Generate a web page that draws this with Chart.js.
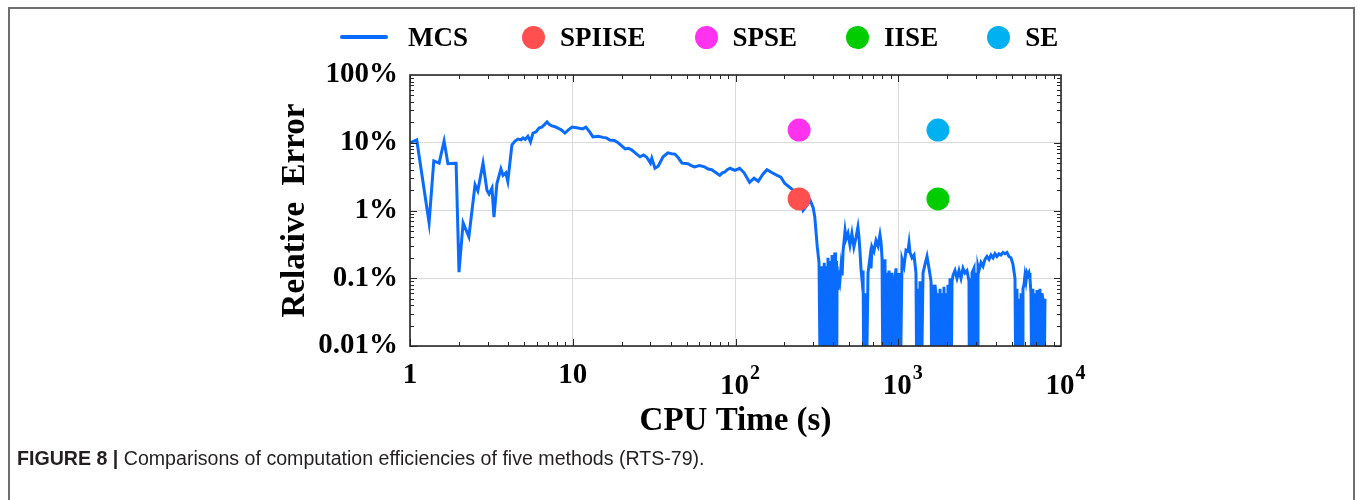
<!DOCTYPE html>
<html>
<head>
<meta charset="utf-8">
<script src="https://cdn.jsdelivr.net/npm/chart.js@4.4.1/dist/chart.umd.min.js"></script>
<style>
  body { margin: 0; background: #fff; }
  #page { position: relative; width: 1357px; height: 500px; overflow: hidden; background: #fff; }
  #frame { position: absolute; left: 8px; top: 7px; width: 1347px; height: 520px; border: 2px solid #6e6e6e; box-sizing: border-box; }
  #chartBox { position: absolute; left: 0; top: 0; width: 1357px; height: 500px; }
  #legend { position: absolute; left: 340px; top: 22px; height: 30px; display: flex; align-items: center;
            font: bold 27px "Liberation Serif", "Times New Roman", serif; color: #000; }
  .item { display: flex; align-items: center; margin-right: 49px; }
  .item:first-child { margin-right: 54px; }
  .swatchLine { width: 48px; height: 4px; border-radius: 2px; margin-right: 20px; }
  .swatchDot { width: 23px; height: 23px; border-radius: 50%; margin-right: 15px; }
  #caption { position: absolute; left: 17px; top: 447px; font: 19.6px "Liberation Sans", Arial, sans-serif; color: #231f20; }
</style>
</head>
<body>
<div id="page">
  <div id="frame"></div>
  <div id="chartBox"><canvas id="errChart" width="1357" height="500"></canvas></div>
  <div id="legend"></div>
  <div id="caption"><b>FIGURE 8 |</b> Comparisons of computation efficiencies of five methods (RTS-79).</div>
</div>
<script>
// Axis ticks
const xTicks = [1, 10, 100, 1000, 10000];
const yTicks = [0.01, 0.1, 1, 10, 100];
const yTickLabels = ['0.01%', '0.1%', '1%', '10%', '100%'];

// MCS convergence curve (CPU time in s, relative error in %)
// values of 0.001 fall below the axis (error reached zero)
const mcsTime = [
  1.00, 1.10, 1.31, 1.40, 1.51, 1.62, 1.71, 1.89, 1.92, 2.00, 2.12, 2.30, 2.51, 2.61, 2.81, 2.97, 3.06, 3.19, 3.28, 3.42,
  3.62, 3.73, 3.88, 3.99, 4.23, 4.42, 4.60, 4.80, 4.95, 5.10, 5.30, 5.50, 5.70, 5.95, 6.20, 6.45, 6.70, 6.95, 7.20, 7.45,
  7.80, 8.10, 8.50, 8.95, 9.40, 9.90, 10.8, 11.5, 12.05, 12.7, 13.3, 14.3, 15.3, 16.1, 16.9, 18.0, 19.0, 20.0, 21.0, 22.0,
  23.1, 24.5, 25.9, 27.2, 28.5, 30.0, 30.6, 32.0, 33.5, 35.9, 38.4, 40.5, 42.4, 44.5, 46.9, 51.0, 53.5, 56.0, 60.0, 64.5,
  68.0, 71.4, 76.0, 80.0, 83.0, 86.0, 89.0, 92.6, 99.0, 106, 113, 122, 130, 138, 147, 156, 168, 180, 190, 201,
  215, 226, 238, 250, 260, 275, 288, 300, 307, 318, 326,
  333, 337, 340, 344, 347, 351, 355, 359, 362, 366,
  370, 373, 377, 381, 386, 389, 392, 395, 398, 401,
  405, 409, 412, 415, 418, 421, 427, 433, 439, 445,
  452, 458, 471, 478, 491, 505, 519, 534, 550, 565,
  573, 582, 590, 599, 608, 616, 625, 634, 652, 670,
  680, 690, 709, 730, 751, 772, 783, 795, 807, 818,
  829, 841, 854, 866, 878, 890, 903, 916, 929, 942,
  955, 969, 983, 997, 1011, 1025, 1055, 1085, 1116, 1148,
  1165, 1181, 1215, 1250, 1285, 1303, 1322, 1341, 1360, 1380,
  1420, 1460, 1502, 1545, 1590, 1613, 1635, 1658, 1680, 1706,
  1730, 1754, 1780, 1805, 1830, 1856, 1883, 1910, 1937, 1965,
  1993, 2021, 2050, 2080, 2110, 2140, 2170, 2232, 2296, 2362,
  2430, 2499, 2570, 2644, 2720, 2740, 2760, 2800, 2840, 2920,
  2962, 3005, 3048, 3090, 3135, 3225, 3317, 3412, 3510, 3610,
  3714, 3820, 3930, 4042, 4158, 4277, 4400, 4527, 4656, 4790,
  4928, 5069, 5215, 5290, 5365, 5440, 5520, 5600, 5680, 5760,
  5840, 5920, 6007, 6090, 6180, 6270, 6360, 6447, 6540, 6630,
  6720, 6820, 6920, 7020, 7120, 7220, 7320, 7427, 7530, 7640,
  7750, 7860, 7971
];
const mcsError = [
  10.0, 11.0, 0.66, 5.4, 5.0, 10.6, 4.9, 5.0, 5.0, 0.123, 0.66, 0.41, 2.4, 1.95, 5.0, 1.99, 1.75, 2.15, 0.80, 2.5,
  4.1, 3.3, 3.6, 2.7, 9.3, 10.6, 11.3, 11.0, 11.8, 11.2, 12.5, 10.3, 13.9, 14.5, 16.5, 17.0, 18.5, 20.3, 18.5, 17.7,
  17.2, 16.5, 15.5, 13.9, 15.5, 17.0, 16.5, 16.0, 17.0, 14.5, 12.2, 12.5, 12.0, 11.8, 11.0, 10.8, 10.0, 9.0, 8.1, 8.3,
  7.8, 6.9, 6.2, 6.6, 6.1, 5.0, 5.9, 4.2, 4.5, 6.2, 7.1, 6.9, 6.8, 6.0, 5.0, 4.9, 4.6, 4.4, 4.6, 4.4,
  4.1, 4.0, 3.6, 3.3, 3.6, 3.7, 4.0, 4.2, 3.9, 4.2, 3.6, 2.6, 3.0, 2.7, 3.4, 4.0, 3.6, 3.3, 3.1, 2.5,
  2.2, 2.0, 1.8, 1.3, 1.0, 1.2, 1.4, 1.1, 0.8, 0.29, 0.17,
  0.001, 0.15, 0.001, 0.12, 0.001, 0.17, 0.001, 0.15, 0.001, 0.09,
  0.2, 0.001, 0.16, 0.001, 0.18, 0.001, 0.22, 0.001, 0.2, 0.001,
  0.21, 0.24, 0.001, 0.18, 0.001, 0.15, 0.067, 0.13, 0.1, 0.15,
  0.11, 0.25, 0.50, 0.38, 0.46, 0.31, 0.46, 0.29, 0.40, 0.57,
  0.42, 0.25, 0.14, 0.094, 0.13, 0.001, 0.06, 0.001, 0.12, 0.2,
  0.14, 0.29, 0.25, 0.36, 0.30, 0.44, 0.35, 0.2, 0.001, 0.1,
  0.19, 0.001, 0.12, 0.08, 0.13, 0.001, 0.09, 0.12, 0.001, 0.07,
  0.1, 0.14, 0.001, 0.08, 0.12, 0.001, 0.19, 0.15, 0.26, 0.25,
  0.33, 0.24, 0.2, 0.22, 0.12, 0.001, 0.07, 0.001, 0.09, 0.001,
  0.12, 0.16, 0.21, 0.14, 0.09, 0.001, 0.08, 0.001, 0.08, 0.06,
  0.001, 0.05, 0.001, 0.07, 0.001, 0.06, 0.001, 0.075, 0.001, 0.06,
  0.001, 0.08, 0.001, 0.1, 0.001, 0.09, 0.11, 0.13, 0.1, 0.13,
  0.1, 0.14, 0.12, 0.13, 0.09, 0.001, 0.1, 0.001, 0.12, 0.14,
  0.001, 0.12, 0.001, 0.15, 0.13, 0.17, 0.15, 0.19, 0.21, 0.19,
  0.22, 0.2, 0.23, 0.21, 0.23, 0.22, 0.24, 0.23, 0.24, 0.21,
  0.2, 0.16, 0.1, 0.001, 0.07, 0.001, 0.05, 0.001, 0.06, 0.001,
  0.07, 0.08, 0.11, 0.09, 0.12, 0.11, 0.12, 0.1, 0.06, 0.001,
  0.07, 0.001, 0.06, 0.001, 0.067, 0.05, 0.001, 0.07, 0.001, 0.06,
  0.048, 0.001, 0.05
];

// the four analytical methods (one point each)
const methodNames = ['SPIISE', 'SPSE', 'IISE', 'SE'];
const methodTime = [246, 246, 1754, 1754];
const methodError = [1.48, 15.4, 1.48, 15.4];
const methodColors = ['#ff4f4f', '#ff33ee', '#00cc00', '#00b0f0'];
const mcsColor = '#0a6cff';

const serif = '"Liberation Serif", "Times New Roman", serif';

// HTML legend
const legend = document.getElementById('legend');
function addLegendItem(name, color, isLine) {
    const item = document.createElement('div');
    item.className = 'item';
    const sw = document.createElement('span');
    sw.className = isLine ? 'swatchLine' : 'swatchDot';
    sw.style.background = color;
    item.appendChild(sw);
    const label = document.createElement('span');
    label.textContent = name;
    item.appendChild(label);
    legend.appendChild(item);
}
addLegendItem('MCS', mcsColor, true);
methodNames.forEach((n, i) => addLegendItem(n, methodColors[i], false));

// x tick labels with superscript exponents + inward MATLAB-style ticks and box
const axisDecor = {
    id: 'axisDecor',
    afterDraw(chart) {
        const { ctx, chartArea: a } = chart;
        const xs = chart.scales.x, ys = chart.scales.y;
        ctx.save();
        ctx.strokeStyle = '#262626';
        ctx.lineWidth = 1;
        ctx.beginPath();
        for (let k = 0; k < 4; k++) {
            for (let m = 1; m <= 9; m++) {
                const px = Math.round(xs.getPixelForValue(m * Math.pow(10, k))) + 0.5;
                const len = m === 1 ? 7 : 4;
                ctx.moveTo(px, a.bottom); ctx.lineTo(px, a.bottom - len);
                ctx.moveTo(px, a.top); ctx.lineTo(px, a.top + len);
            }
        }
        for (let k = -2; k < 2; k++) {
            for (let m = 1; m <= 9; m++) {
                const py = Math.round(ys.getPixelForValue(m * Math.pow(10, k))) + 0.5;
                const len = m === 1 ? 7 : 4;
                ctx.moveTo(a.left, py); ctx.lineTo(a.left + len, py);
                ctx.moveTo(a.right, py); ctx.lineTo(a.right - len, py);
            }
        }
        ctx.stroke();
        ctx.lineWidth = 1.6;
        ctx.strokeRect(a.left, a.top, a.right - a.left, a.bottom - a.top);

        ctx.fillStyle = '#000';
        xTicks.forEach(v => {
            const px = xs.getPixelForValue(v);
            const e = Math.round(Math.log10(v));
            ctx.font = 'bold 29px ' + serif;
            ctx.textAlign = 'center';
            ctx.textBaseline = 'alphabetic';
            if (e <= 1) {
                ctx.fillText(String(v), px, a.bottom + 37);
            } else {
                const w = ctx.measureText('10').width;
                ctx.fillText('10', px - 1, a.bottom + 48);
                ctx.font = 'bold 20px ' + serif;
                ctx.textAlign = 'left';
                ctx.fillText(String(e), px - 1 + w / 2 + 1, a.bottom + 33);
            }
        });
        ctx.restore();
    }
};

const datasets = [{
    label: 'MCS',
    type: 'line',
    data: mcsTime.map((t, i) => ({ x: t, y: mcsError[i] })),
    borderColor: mcsColor,
    borderWidth: 3,
    pointRadius: 0,
    tension: 0,
    order: 2
}];
methodNames.forEach((n, i) => {
    datasets.push({
        label: n,
        type: 'scatter',
        data: [{ x: methodTime[i], y: methodError[i] }],
        backgroundColor: methodColors[i],
        borderWidth: 0,
        pointRadius: 11.5,
        order: 1
    });
});

new Chart(document.getElementById('errChart'), {
    type: 'line',
    data: { datasets },
    options: {
        responsive: false,
        animation: false,
        layout: { padding: { left: 276, right: 296, top: 75, bottom: 59 } },
        plugins: { legend: { display: false }, tooltip: { enabled: false } },
        scales: {
            x: {
                type: 'logarithmic',
                min: 1,
                max: 10000,
                afterBuildTicks: s => { s.ticks = xTicks.map(v => ({ value: v })); },
                afterFit: s => { s.height = 95; },
                ticks: { display: false },
                grid: { color: '#dadada', lineWidth: 1, drawTicks: false },
                border: { display: false },
                title: {
                    display: true,
                    text: 'CPU Time (s)',
                    color: '#000',
                    padding: 0,
                    font: { family: serif, size: 33, weight: 'bold' }
                }
            },
            y: {
                type: 'logarithmic',
                min: 0.01,
                max: 100,
                afterBuildTicks: s => { s.ticks = yTicks.map(v => ({ value: v })); },
                afterFit: s => { s.width = 134; },
                ticks: {
                    padding: 12,
                    color: '#000',
                    font: { family: serif, size: 29, weight: 'bold' },
                    callback: (v) => yTickLabels[yTicks.indexOf(v)]
                },
                grid: { color: '#dadada', lineWidth: 1, drawTicks: false },
                border: { display: false },
                title: {
                    display: true,
                    text: 'Relative  Error',
                    color: '#000',
                    padding: 0,
                    font: { family: serif, size: 33, weight: 'bold' }
                }
            }
        }
    },
    plugins: [axisDecor]
});
</script>
</body>
</html>
